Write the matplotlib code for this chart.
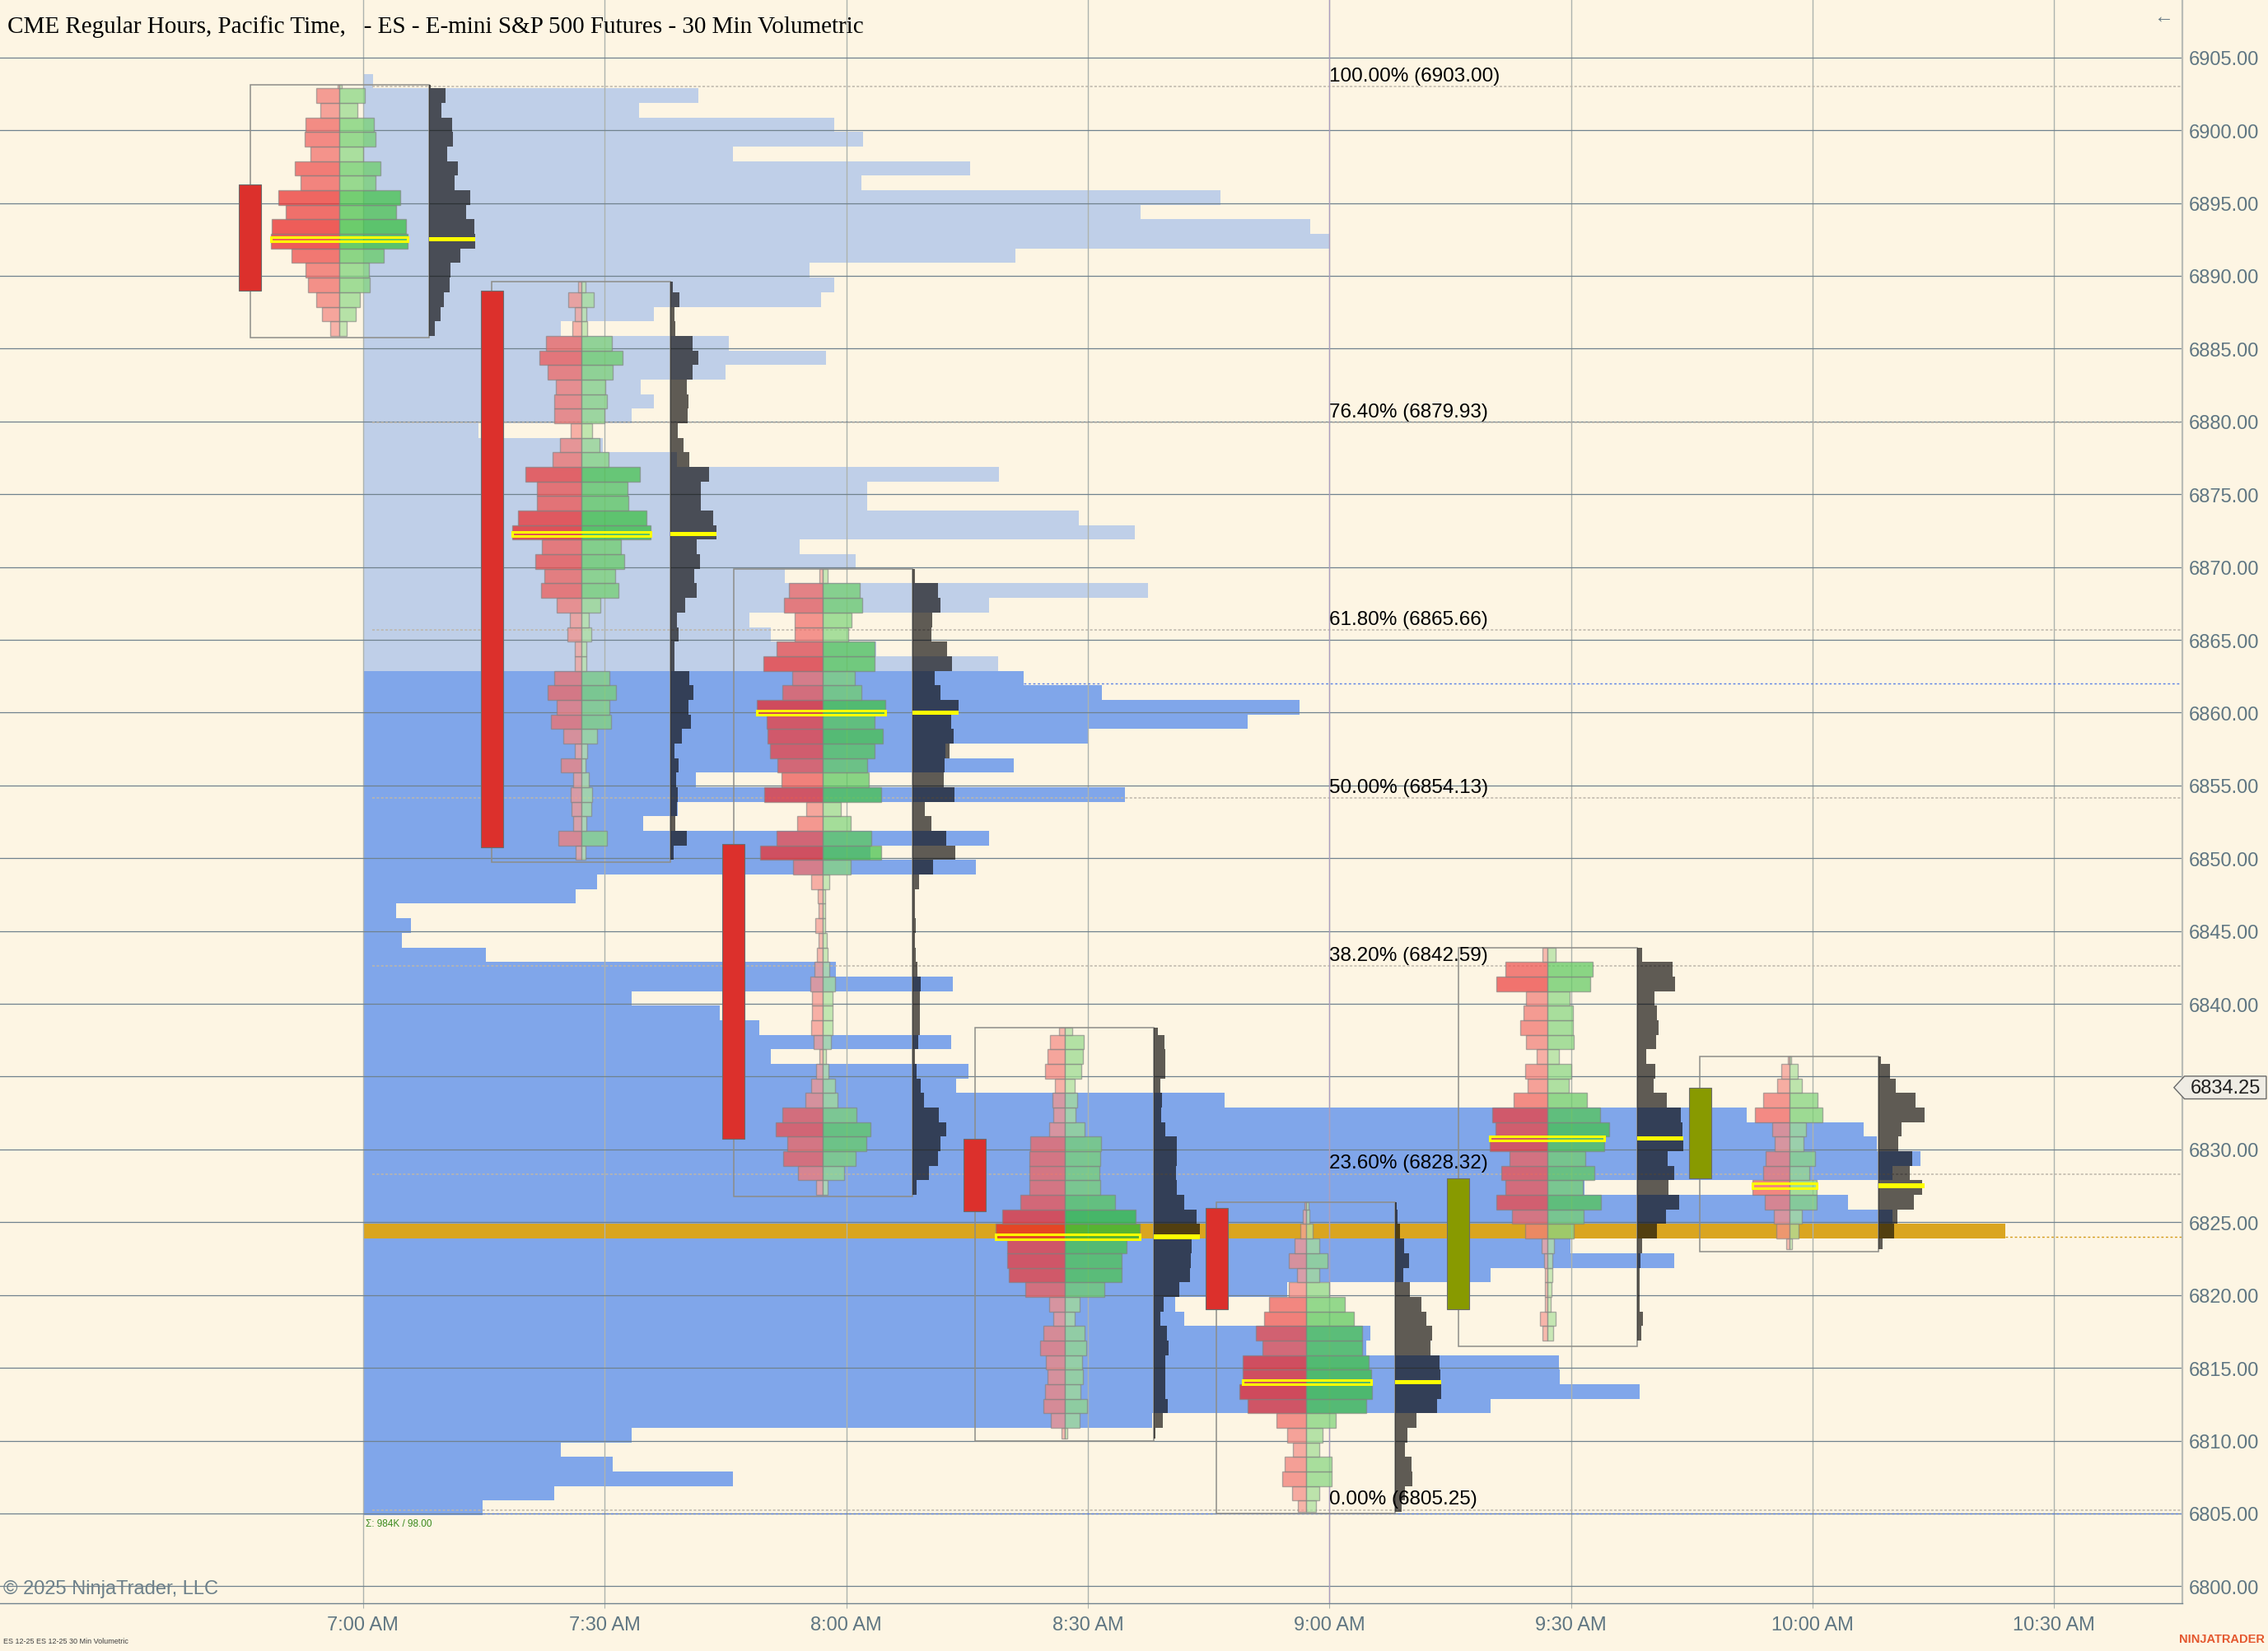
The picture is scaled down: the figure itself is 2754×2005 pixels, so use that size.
import numpy as np
import matplotlib
matplotlib.use('Agg')
import matplotlib.pyplot as plt
from matplotlib.patches import Rectangle, Polygon
from matplotlib.transforms import blended_transform_factory
from matplotlib import font_manager

# ---------------- data ----------------
# 30 min volumetric bars (open time, Pacific)
bar_open = ['6:30', '7:00', '7:30', '8:00', '8:30', '9:00', '9:30']
bar_o = [6896.25, 6889.00, 6851.00, 6830.75, 6826.00, 6819.00, 6828.00]
bar_c = [6889.00, 6850.75, 6830.75, 6825.75, 6819.00, 6828.00, 6834.25]
bar_hi = [6903.00, 6889.50, 6869.75, 6838.25, 6826.25, 6843.75, 6836.25]
bar_lo = [6886.00, 6850.00, 6827.00, 6810.25, 6805.25, 6816.75, 6823.25]
bar_poc = [6892.50, 6872.25, 6860.00, 6824.00, 6814.00, 6830.75, 6827.50]
fp_first = [6886, 6850, 6827, 6810, 6805, 6817, 6823]   # lowest 1 pt row of each footprint

# bid / ask volume per 1 pt row, bottom to top (relative units)
bid_1 = [11, 21, 28, 38, 41, 58, 83, 82, 65, 74, 47, 54, 35, 42, 41, 23, 28, 2]
ask_1 = [9, 20, 25, 37, 36, 54, 83, 81, 69, 74, 44, 50, 29, 44, 42, 22, 31, 3]
bid_2 = [7, 28, 10, 12, 13, 10, 25, 8, 22, 37, 30, 41, 33, 8, 8, 17, 14, 30, 49, 45,
         56, 48, 84, 77, 54, 54, 68, 35, 26, 13, 33, 33, 31, 41, 51, 43, 11, 8, 16, 4]
ask_2 = [5, 31, 6, 12, 13, 9, 5, 7, 19, 36, 34, 42, 34, 6, 6, 12, 9, 23, 45, 41,
         52, 48, 84, 79, 57, 56, 71, 33, 22, 13, 28, 31, 29, 38, 50, 37, 7, 6, 15, 5]
bid_3 = [8, 30, 48, 43, 57, 49, 21, 14, 8, 4, 11, 14, 13, 13, 15, 10, 7, 5, 9, 5, 6, 14,
         36, 76, 56, 31, 20, 71, 50, 55, 64, 67, 68, 80, 49, 37, 72, 56, 34, 34, 47, 41, 4]
ask_3 = [6, 26, 40, 53, 58, 41, 18, 15, 7, 4, 10, 12, 12, 12, 15, 8, 6, 5, 3, 3, 3, 8,
         34, 71, 59, 34, 22, 71, 56, 54, 63, 73, 63, 76, 47, 39, 63, 63, 31, 35, 48, 45, 6]
bid_4 = [4, 17, 26, 24, 21, 23, 30, 26, 14, 19, 48, 68, 70, 70, 84, 76, 54, 43, 43, 43,
         42, 19, 14, 15, 12, 24, 21, 18, 7]
ask_4 = [3, 18, 27, 19, 22, 21, 26, 24, 12, 18, 48, 69, 69, 75, 91, 86, 61, 43, 42, 43,
         44, 24, 13, 15, 12, 20, 22, 23, 9]
bid_5 = [10, 17, 29, 26, 16, 23, 36, 71, 81, 77, 77, 53, 61, 51, 45, 21, 11, 21, 14, 7, 4, 2]
ask_5 = [12, 16, 31, 31, 16, 20, 36, 73, 80, 79, 76, 68, 68, 58, 47, 28, 16, 26, 16, 8, 4, 3]
bid_6 = [6, 9, 3, 3, 3, 4, 7, 27, 43, 62, 51, 56, 46, 70, 63, 67, 41, 24, 27, 13, 26, 33,
         29, 26, 62, 51, 6]
ask_6 = [7, 10, 4, 5, 6, 6, 8, 32, 44, 65, 43, 57, 46, 69, 75, 64, 48, 26, 29, 14, 32, 31,
         31, 27, 52, 55, 10]
bid_7 = [4, 16, 19, 30, 45, 32, 29, 18, 21, 42, 32, 15, 10, 2]
ask_7 = [3, 11, 15, 33, 33, 24, 31, 17, 20, 40, 34, 15, 10, 2]
bids = [bid_1, bid_2, bid_3, bid_4, bid_5, bid_6, bid_7]
asks = [ask_1, ask_2, ask_3, ask_4, ask_5, ask_6, ask_7]

# session volume profile, 1 pt rows from 6805 up to 6903
prof_first = 6805
prof_vol = [83, 132, 256, 173, 137, 186, 546, 780, 883, 828,
            827, 694, 697, 568, 562, 639, 780, 907, 835, 1136,
            1058, 1027, 845, 1058, 1077, 1047, 1038, 957, 596, 410,
            419, 282, 407, 274, 247, 186, 408, 327, 85, 27,
            33, 23, 147, 162, 424, 351, 433, 194, 218, 527,
            230, 450, 403, 502, 612, 648, 511, 457, 439, 355,
            282, 267, 433, 543, 292, 341, 302, 534, 495, 349,
            349, 440, 217, 166, 80, 186, 201, 192, 251, 320,
            253, 137, 201, 317, 326, 309, 451, 668, 655, 538,
            593, 345, 420, 256, 346, 326, 191, 232, 7]
prof_poc = 6824
prof_vah = 6862
prof_val = 6805

fib_hi = 6903.00
fib_lo = 6805.25
fib_pct = [0.0, 23.6, 38.2, 50.0, 61.8, 76.4, 100.0]

time_ticks = ['7:00', '7:30', '8:00', '8:30', '9:00', '9:30', '10:00', '10:30']
price_ticks = list(range(6800, 6910, 5))
last_price = 6834.25

# ---------------- style ----------------
BG = '#fdf5e3'
HI_BLUE = '#bfcfe8'
VA_BLUE = '#80a6ea'
GOLD = '#daa520'
DARK = (0.04, 0.03, 0.03, 0.65)
RED_LO, RED_HI = (0.97, 0.70, 0.66), (0.91, 0.11, 0.12)
GRN_LO, GRN_HI = (0.78, 0.91, 0.70), (0.17, 0.73, 0.22)
AXCOL = '#5f7682'

SLOT_OFFSET = 16.0          # minutes from bar open to its slot
CANDLE_W = 2.76
BOX_W = 22.2
FP_PX = 30 / 293.4          # minutes per footprint unit
PROF_PX = 30 / 167.1        # minutes per profile unit
DARK_MAX = 56 * FP_PX
XMIN, XMAX = 374.93, 645.9

names = {f.name for f in font_manager.fontManager.ttflist}
NARROW = 'Liberation Sans Narrow' if 'Liberation Sans Narrow' in names else 'Liberation Sans'
plt.rcParams['font.family'] = ['Liberation Sans', 'DejaVu Sans']


def hm(s):
    h, m = s.split(':')
    return int(h) * 60 + int(m)


def shade(v, lo, hi, vmax):
    t = min(v / vmax, 1.0) ** 0.9
    c = (1 - t) * np.array(lo) + t * np.array(hi)
    return (c[0], c[1], c[2], 0.75)


fig = plt.figure(figsize=(27.54, 20.06), dpi=100, facecolor=BG)
ax = fig.add_axes([0, 0.0289, 0.9622, 0.9711])
ax.set_facecolor(BG)

# session profile
pp = prof_first + np.arange(len(prof_vol))
cols = [GOLD if q == prof_poc else (VA_BLUE if q <= prof_vah else HI_BLUE) for q in pp]
x_prof = hm('7:00')
ax.barh(pp - 0.125, np.array(prof_vol) * PROF_PX, height=1.0, left=x_prof,
        align='edge', color=cols, linewidth=0, zorder=1)
for lvl, col in [(prof_vah, '#5a80e6'), (prof_poc, '#d49a18'), (prof_val, '#5a80e6')]:
    x_end = x_prof + prof_vol[lvl - prof_first] * PROF_PX
    ax.hlines(lvl, x_end, XMAX, colors=col, linestyles=(0, (2, 2)), linewidth=1.0, zorder=1.6)

# fibonacci retracement
for pct in fib_pct:
    lvl = fib_lo + pct / 100 * (fib_hi - fib_lo)
    ax.hlines(lvl, x_prof + 1.2, XMAX, colors='#bdb6aa', linestyles=(0, (2, 1.5)),
              linewidth=1.1, zorder=1.6)
    ax.text(hm('9:00'), lvl + 0.12, f'{pct:.2f}% ({lvl + 1e-6:.2f})', ha='left', va='bottom',
            fontsize=17.5, color='black', zorder=6)
ax.axvline(hm('9:00'), color='#ad9cc0', linewidth=0.9, zorder=1.7)

# volumetric bars
vmax = max(max(v) for v in bids + asks)
for i in range(len(bar_open)):
    x0 = hm(bar_open[i]) + SLOT_OFFSET
    xc = x0 + BOX_W / 2
    xr = x0 + BOX_W
    p = fp_first[i] + np.arange(len(bids[i]))
    bot = np.maximum(p - 0.125, bar_lo[i] - 0.125)
    top = np.minimum(p + 0.875, bar_hi[i] + 0.125)
    h = top - bot
    b = np.array(bids[i], dtype=float)
    a = np.array(asks[i], dtype=float)

    ax.add_patch(Rectangle((x0, bar_lo[i] - 0.25), BOX_W, bar_hi[i] - bar_lo[i] + 0.375,
                           fill=False, edgecolor='#8d8d88', linewidth=1.1, zorder=2))
    tot = b + a
    ax.barh(bot, DARK_MAX * tot / tot.max(), height=h, left=xr, align='edge',
            color=DARK, linewidth=0, zorder=2.5)
    ax.barh(bot, -b * FP_PX, height=h, left=xc, align='edge',
            color=[shade(v, RED_LO, RED_HI, vmax) for v in b],
            edgecolor=(0.5, 0.5, 0.5, 0.6), linewidth=1.0, zorder=3)
    ax.barh(bot, a * FP_PX, height=h, left=xc, align='edge',
            color=[shade(v, GRN_LO, GRN_HI, vmax) for v in a],
            edgecolor=(0.5, 0.5, 0.5, 0.6), linewidth=1.0, zorder=3)

    k = int(np.floor(bar_poc[i])) - fp_first[i]
    ax.add_patch(Rectangle((xc - b[k] * FP_PX, bar_poc[i] - 0.15), (b[k] + a[k]) * FP_PX, 0.3,
                           fill=False, edgecolor='#ffff00', linewidth=2.2, zorder=3.5))
    ax.add_patch(Rectangle((xr, bar_poc[i] - 0.15), DARK_MAX, 0.3,
                           facecolor='#ffff00', edgecolor='none', zorder=3.5))

    up = bar_c[i] >= bar_o[i]
    ax.bar(x0, bar_c[i] - bar_o[i], bottom=bar_o[i], width=CANDLE_W,
           color='#889a00' if up else '#dc302c', edgecolor='#6b6b6b', linewidth=0.8, zorder=4)

# axes
ax.set_xlim(XMIN, XMAX)
ax.set_ylim(6798.83, 6909.0)
ax.set_axisbelow('line')
ax.yaxis.grid(True, color='#70828e', linewidth=0.9)
ax.xaxis.grid(True, color='#adb3ae', linewidth=1.0)
ax.set_yticks(price_ticks)
# the 6835.00 label sits under the last price marker
ax.set_yticklabels(['' if abs(v - last_price) < 1.5 else f'{v:.2f}' for v in price_ticks])
ax.set_xticks([hm(t) for t in time_ticks])
ax.set_xticklabels([t + ' AM' for t in time_ticks])
ax.yaxis.tick_right()
ax.tick_params(axis='y', length=0, pad=6, labelsize=17, labelcolor=AXCOL)
ax.tick_params(axis='x', length=4, color='#adb3ae', pad=7, labelsize=17, labelcolor=AXCOL)
for s in ['top', 'left']:
    ax.spines[s].set_visible(False)
ax.spines['right'].set_color('#b9bcb6')
ax.spines['right'].set_linewidth(1.6)
ax.spines['bottom'].set_color('#72848f')
ax.spines['bottom'].set_linewidth(1.0)

# last price marker on the price scale
tr = blended_transform_factory(ax.transAxes, ax.transData)
ax.add_patch(Polygon([(0.9962, last_price), (1.0010, last_price + 0.78), (1.0385, last_price + 0.78),
                      (1.0385, last_price - 0.78), (1.0010, last_price - 0.78)],
                     closed=True, transform=tr, facecolor='#efece4', edgecolor='#6a6a6a',
                     linewidth=1.0, clip_on=False, zorder=20))
ax.text(1.0198, last_price, f'{last_price:.2f}', transform=tr, ha='center', va='center',
        fontsize=17, color='#202020', clip_on=False, zorder=21)

ax.text(x_prof + 0.3, 6804.65, 'Σ: 984K / 98.00', ha='left', va='top', fontsize=8.5,
        color='#3b8a1e', family=NARROW, zorder=6)

fig.text(0.0033, 0.984, 'CME Regular Hours, Pacific Time,   - ES - E-mini S&P 500 Futures - 30 Min Volumetric',
         ha='left', va='center', fontsize=21, family='Liberation Serif', color='black')
fig.text(0.954, 0.9895, '←', ha='center', va='center', fontsize=17, color='#6a7c88')
fig.text(0.0015, 0.0379, '© 2025 NinjaTrader, LLC', ha='left', va='center', fontsize=17,
         color='#6d808a')
fig.text(0.0015, 0.0042, 'ES 12-25 ES 12-25 30 Min Volumetric', ha='left', va='bottom',
         fontsize=6.5, color='#404040', family=NARROW)
fig.text(0.9985, 0.0042, 'NINJATRADER', ha='right', va='bottom', fontsize=10.5,
         fontweight='bold', color='#e4572e', family=NARROW)

fig.savefig('out.png', dpi=100, facecolor=BG)
